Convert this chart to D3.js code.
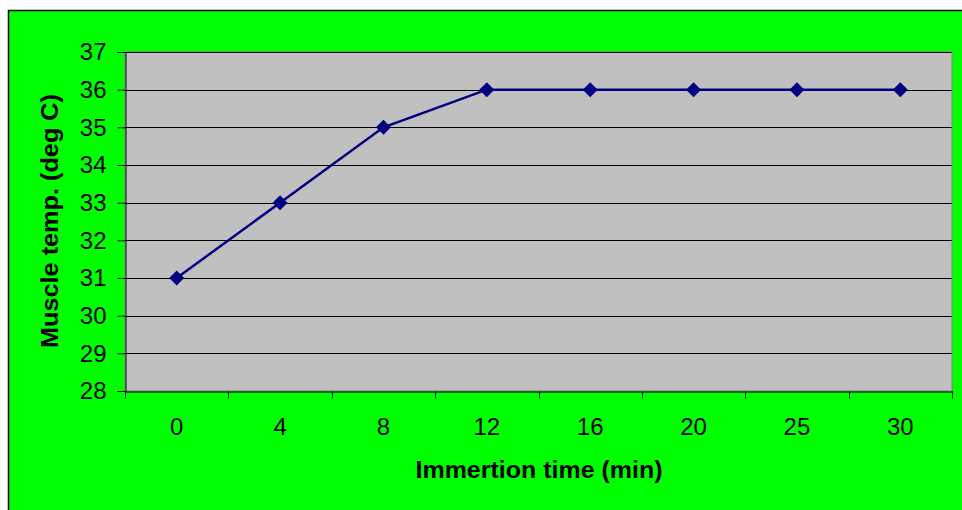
<!DOCTYPE html>
<html><head><meta charset="utf-8">
<script src="https://cdn.jsdelivr.net/npm/d3@7/dist/d3.min.js"></script>
<style>body{margin:0;background:#fff;}svg{display:block;}</style>
</head><body>
<script>
const categories = ["0","4","8","12","16","20","25","30"];
const values = [31,33,35,36,36,36,36,36];
const yTicks = [28,29,30,31,32,33,34,35,36,37];
const xTitle = "Immertion time (min)";
const yTitle = "Muscle temp. (deg C)";

const W = 962, H = 510;
const svg = d3.select("body").append("svg").attr("width", W).attr("height", H);
svg.append("rect").attr("x", 8.5).attr("y", 10.5).attr("width", W).attr("height", H)
  .attr("fill", "#00ff00").attr("stroke", "#000").attr("stroke-width", 1.5);

const L = 125, R = 952, T = 52, B = 391;
const x = d3.scaleBand().domain(categories).range([L, R]).padding(0);
const y = d3.scaleLinear().domain([28, 37]).range([B, T]);

svg.append("rect").attr("x", L).attr("y", T).attr("width", R - L).attr("height", B - T)
  .attr("fill", "#c0c0c0").attr("stroke", "#808080").attr("stroke-width", 1);

// gridlines
svg.append("g").selectAll("line").data(yTicks.filter(d => d > 28 && d < 37)).join("line")
  .attr("x1", L).attr("x2", R).attr("y1", d => Math.round(y(d)) + 0.5).attr("y2", d => Math.round(y(d)) + 0.5)
  .attr("stroke", "#000").attr("stroke-width", 1);
svg.append("line").attr("x1", L).attr("x2", R).attr("y1", T + 0.5).attr("y2", T + 0.5).attr("stroke", "#000");

// y axis
const yAxis = d3.axisLeft(y).tickValues(yTicks).tickSize(8).tickPadding(11).tickFormat(d3.format("d"));
const gy = svg.append("g").attr("transform", `translate(${L + 0.5},0)`).call(yAxis);
gy.select(".domain").attr("stroke", "#000");
gy.selectAll(".tick line").attr("stroke", "#000");
gy.selectAll("text").attr("font-family", "Liberation Sans, Arial, sans-serif").attr("font-size", 24).attr("fill", "#000");

// x axis
const xAxis = d3.axisBottom(x).tickSize(0).tickPadding(26);
const gx = svg.append("g").attr("transform", `translate(0,${B + 0.5})`).call(xAxis);
gx.select(".domain").attr("stroke", "#000");
gx.selectAll("text").attr("font-family", "Liberation Sans, Arial, sans-serif").attr("font-size", 24).attr("fill", "#000");
// x ticks at band boundaries
const bounds = categories.map(c => x(c)).concat([x(categories[categories.length - 1]) + x.bandwidth()]);
gx.append("g").selectAll("line").data(bounds).join("line")
  .attr("x1", d => Math.round(d) + 0.5).attr("x2", d => Math.round(d) + 0.5)
  .attr("y1", 0).attr("y2", 7).attr("stroke", "#000");

// line
const line = d3.line().x((d, i) => x(categories[i]) + x.bandwidth() / 2).y(d => y(d));
svg.append("path").datum(values).attr("d", line).attr("fill", "none")
  .attr("stroke", "#000080").attr("stroke-width", 2.5);
svg.append("g").selectAll("path").data(values).join("path")
  .attr("transform", (d, i) => `translate(${x(categories[i]) + x.bandwidth() / 2},${y(d)})`)
  .attr("d", "M0,-7.5L7.5,0L0,7.5L-7.5,0Z").attr("fill", "#000080");

// titles
svg.append("text").attr("x", 539).attr("y", 478).attr("text-anchor", "middle")
  .attr("font-family", "Liberation Sans, Arial, sans-serif").attr("font-weight", "bold").attr("font-size", 23)
  .attr("textLength", 247).attr("lengthAdjust", "spacingAndGlyphs")
  .attr("fill", "#000").text(xTitle);
svg.append("text").attr("transform", "translate(58,221) rotate(-90)").attr("text-anchor", "middle")
  .attr("font-family", "Liberation Sans, Arial, sans-serif").attr("font-weight", "bold").attr("font-size", 23)
  .attr("textLength", 254).attr("lengthAdjust", "spacingAndGlyphs")
  .attr("fill", "#000").text(yTitle);
</script>
</body></html>
